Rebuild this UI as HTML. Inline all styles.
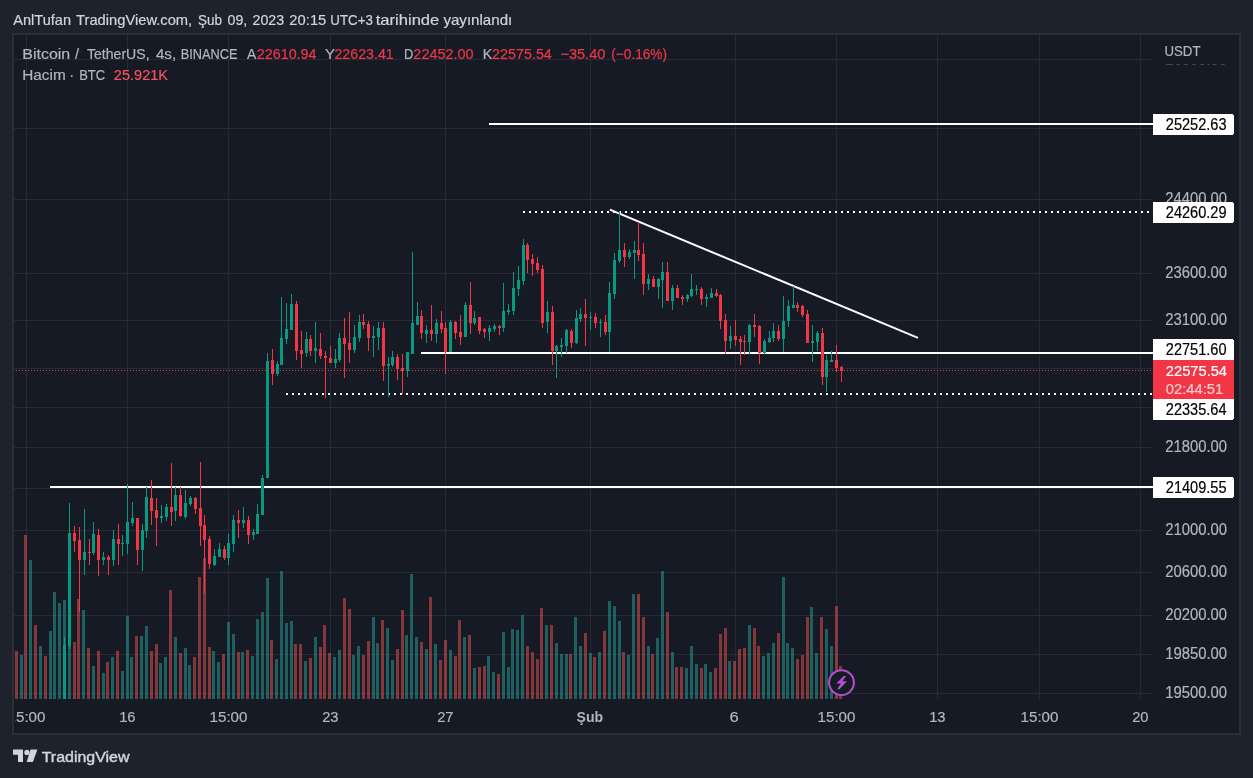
<!DOCTYPE html>
<html><head><meta charset="utf-8">
<style>
html,body{margin:0;padding:0;}
body{width:1253px;height:778px;background:#1e222d;position:relative;overflow:hidden;font-family:"Liberation Sans",sans-serif;}
svg{position:absolute;left:0;top:0;will-change:transform;}
text{font-family:"Liberation Sans",sans-serif;}
</style></head><body>
<svg width="1253" height="778" viewBox="0 0 1253 778" shape-rendering="crispEdges">
<defs><clipPath id="pane"><rect x="14" y="35" width="1139" height="664"/></clipPath>
<clipPath id="taxis"><rect x="15" y="699" width="1138" height="34"/></clipPath></defs>
<rect x="12" y="33" width="1229" height="702" fill="#2a2e39"/>
<rect x="14" y="35" width="1225" height="698" fill="#161a24"/>
<g clip-path="url(#pane)">
<g id="grid">
<rect x="14" y="59" width="1139" height="1" fill="#262a35"/>
<rect x="14" y="128" width="1139" height="1" fill="#262a35"/>
<rect x="14" y="199" width="1139" height="1" fill="#262a35"/>
<rect x="14" y="273" width="1139" height="1" fill="#262a35"/>
<rect x="14" y="320" width="1139" height="1" fill="#262a35"/>
<rect x="14" y="368" width="1139" height="1" fill="#262a35"/>
<rect x="14" y="407" width="1139" height="1" fill="#262a35"/>
<rect x="14" y="447" width="1139" height="1" fill="#262a35"/>
<rect x="14" y="488" width="1139" height="1" fill="#262a35"/>
<rect x="14" y="530" width="1139" height="1" fill="#262a35"/>
<rect x="14" y="572" width="1139" height="1" fill="#262a35"/>
<rect x="14" y="615" width="1139" height="1" fill="#262a35"/>
<rect x="14" y="654" width="1139" height="1" fill="#262a35"/>
<rect x="14" y="693" width="1139" height="1" fill="#262a35"/>
<rect x="26" y="35" width="1" height="664" fill="#262a35"/>
<rect x="127" y="35" width="1" height="664" fill="#262a35"/>
<rect x="228" y="35" width="1" height="664" fill="#262a35"/>
<rect x="330" y="35" width="1" height="664" fill="#262a35"/>
<rect x="445" y="35" width="1" height="664" fill="#262a35"/>
<rect x="590" y="35" width="1" height="664" fill="#262a35"/>
<rect x="735" y="35" width="1" height="664" fill="#262a35"/>
<rect x="836" y="35" width="1" height="664" fill="#262a35"/>
<rect x="937" y="35" width="1" height="664" fill="#262a35"/>
<rect x="1039" y="35" width="1" height="664" fill="#262a35"/>
<rect x="1140" y="35" width="1" height="664" fill="#262a35"/>
</g>
<g id="vol">
<rect x="15" y="651" width="3" height="48" fill="rgba(239,83,80,0.5)"/>
<rect x="20" y="655" width="3" height="44" fill="rgba(38,166,154,0.5)"/>
<rect x="24" y="535" width="3" height="164" fill="rgba(239,83,80,0.5)"/>
<rect x="29" y="560" width="3" height="139" fill="rgba(38,166,154,0.5)"/>
<rect x="34" y="625" width="3" height="74" fill="rgba(239,83,80,0.5)"/>
<rect x="39" y="646" width="3" height="53" fill="rgba(38,166,154,0.5)"/>
<rect x="44" y="656" width="3" height="43" fill="rgba(239,83,80,0.5)"/>
<rect x="49" y="631" width="3" height="68" fill="rgba(38,166,154,0.5)"/>
<rect x="53" y="592" width="3" height="107" fill="rgba(38,166,154,0.5)"/>
<rect x="58" y="603" width="3" height="96" fill="rgba(38,166,154,0.5)"/>
<rect x="63" y="600" width="3" height="99" fill="rgba(38,166,154,0.5)"/>
<rect x="68" y="590" width="3" height="109" fill="rgba(38,166,154,0.5)"/>
<rect x="73" y="642" width="3" height="57" fill="rgba(239,83,80,0.5)"/>
<rect x="77" y="599" width="3" height="100" fill="rgba(239,83,80,0.5)"/>
<rect x="82" y="610" width="3" height="89" fill="rgba(38,166,154,0.5)"/>
<rect x="87" y="648" width="3" height="51" fill="rgba(239,83,80,0.5)"/>
<rect x="92" y="666" width="3" height="33" fill="rgba(38,166,154,0.5)"/>
<rect x="97" y="651" width="3" height="48" fill="rgba(239,83,80,0.5)"/>
<rect x="102" y="673" width="3" height="26" fill="rgba(38,166,154,0.5)"/>
<rect x="106" y="662" width="3" height="37" fill="rgba(239,83,80,0.5)"/>
<rect x="111" y="657" width="3" height="42" fill="rgba(38,166,154,0.5)"/>
<rect x="116" y="651" width="3" height="48" fill="rgba(239,83,80,0.5)"/>
<rect x="121" y="671" width="3" height="28" fill="rgba(38,166,154,0.5)"/>
<rect x="126" y="616" width="3" height="83" fill="rgba(38,166,154,0.5)"/>
<rect x="130" y="657" width="3" height="42" fill="rgba(38,166,154,0.5)"/>
<rect x="135" y="636" width="3" height="63" fill="rgba(239,83,80,0.5)"/>
<rect x="140" y="636" width="3" height="63" fill="rgba(38,166,154,0.5)"/>
<rect x="145" y="626" width="3" height="73" fill="rgba(38,166,154,0.5)"/>
<rect x="150" y="651" width="3" height="48" fill="rgba(239,83,80,0.5)"/>
<rect x="155" y="644" width="3" height="55" fill="rgba(239,83,80,0.5)"/>
<rect x="159" y="663" width="3" height="36" fill="rgba(38,166,154,0.5)"/>
<rect x="164" y="657" width="3" height="42" fill="rgba(38,166,154,0.5)"/>
<rect x="169" y="590" width="3" height="109" fill="rgba(239,83,80,0.5)"/>
<rect x="174" y="637" width="3" height="62" fill="rgba(38,166,154,0.5)"/>
<rect x="179" y="653" width="3" height="46" fill="rgba(239,83,80,0.5)"/>
<rect x="184" y="648" width="3" height="51" fill="rgba(38,166,154,0.5)"/>
<rect x="188" y="665" width="3" height="34" fill="rgba(38,166,154,0.5)"/>
<rect x="193" y="657" width="3" height="42" fill="rgba(239,83,80,0.5)"/>
<rect x="198" y="577" width="3" height="122" fill="rgba(239,83,80,0.5)"/>
<rect x="203" y="558" width="3" height="141" fill="rgba(239,83,80,0.5)"/>
<rect x="208" y="647" width="3" height="52" fill="rgba(239,83,80,0.5)"/>
<rect x="212" y="651" width="3" height="48" fill="rgba(38,166,154,0.5)"/>
<rect x="217" y="662" width="3" height="37" fill="rgba(38,166,154,0.5)"/>
<rect x="222" y="654" width="3" height="45" fill="rgba(239,83,80,0.5)"/>
<rect x="227" y="622" width="3" height="77" fill="rgba(38,166,154,0.5)"/>
<rect x="232" y="634" width="3" height="65" fill="rgba(38,166,154,0.5)"/>
<rect x="237" y="652" width="3" height="47" fill="rgba(239,83,80,0.5)"/>
<rect x="241" y="652" width="3" height="47" fill="rgba(38,166,154,0.5)"/>
<rect x="246" y="650" width="3" height="49" fill="rgba(239,83,80,0.5)"/>
<rect x="251" y="656" width="3" height="43" fill="rgba(38,166,154,0.5)"/>
<rect x="256" y="619" width="3" height="80" fill="rgba(38,166,154,0.5)"/>
<rect x="261" y="612" width="3" height="87" fill="rgba(38,166,154,0.5)"/>
<rect x="266" y="578" width="3" height="121" fill="rgba(38,166,154,0.5)"/>
<rect x="270" y="640" width="3" height="59" fill="rgba(239,83,80,0.5)"/>
<rect x="275" y="659" width="3" height="40" fill="rgba(38,166,154,0.5)"/>
<rect x="280" y="571" width="3" height="128" fill="rgba(38,166,154,0.5)"/>
<rect x="285" y="623" width="3" height="76" fill="rgba(38,166,154,0.5)"/>
<rect x="290" y="621" width="3" height="78" fill="rgba(38,166,154,0.5)"/>
<rect x="294" y="644" width="3" height="55" fill="rgba(239,83,80,0.5)"/>
<rect x="299" y="644" width="3" height="55" fill="rgba(239,83,80,0.5)"/>
<rect x="304" y="661" width="3" height="38" fill="rgba(38,166,154,0.5)"/>
<rect x="309" y="658" width="3" height="41" fill="rgba(239,83,80,0.5)"/>
<rect x="314" y="637" width="3" height="62" fill="rgba(38,166,154,0.5)"/>
<rect x="319" y="647" width="3" height="52" fill="rgba(239,83,80,0.5)"/>
<rect x="323" y="625" width="3" height="74" fill="rgba(239,83,80,0.5)"/>
<rect x="328" y="653" width="3" height="46" fill="rgba(239,83,80,0.5)"/>
<rect x="333" y="657" width="3" height="42" fill="rgba(38,166,154,0.5)"/>
<rect x="338" y="650" width="3" height="49" fill="rgba(38,166,154,0.5)"/>
<rect x="343" y="598" width="3" height="101" fill="rgba(239,83,80,0.5)"/>
<rect x="348" y="609" width="3" height="90" fill="rgba(239,83,80,0.5)"/>
<rect x="352" y="655" width="3" height="44" fill="rgba(38,166,154,0.5)"/>
<rect x="357" y="646" width="3" height="53" fill="rgba(38,166,154,0.5)"/>
<rect x="362" y="655" width="3" height="44" fill="rgba(239,83,80,0.5)"/>
<rect x="367" y="641" width="3" height="58" fill="rgba(239,83,80,0.5)"/>
<rect x="372" y="617" width="3" height="82" fill="rgba(38,166,154,0.5)"/>
<rect x="376" y="643" width="3" height="56" fill="rgba(38,166,154,0.5)"/>
<rect x="381" y="620" width="3" height="79" fill="rgba(239,83,80,0.5)"/>
<rect x="386" y="628" width="3" height="71" fill="rgba(38,166,154,0.5)"/>
<rect x="391" y="660" width="3" height="39" fill="rgba(38,166,154,0.5)"/>
<rect x="396" y="649" width="3" height="50" fill="rgba(239,83,80,0.5)"/>
<rect x="401" y="610" width="3" height="89" fill="rgba(239,83,80,0.5)"/>
<rect x="405" y="635" width="3" height="64" fill="rgba(38,166,154,0.5)"/>
<rect x="410" y="574" width="3" height="125" fill="rgba(38,166,154,0.5)"/>
<rect x="415" y="637" width="3" height="62" fill="rgba(38,166,154,0.5)"/>
<rect x="420" y="642" width="3" height="57" fill="rgba(239,83,80,0.5)"/>
<rect x="425" y="649" width="3" height="50" fill="rgba(38,166,154,0.5)"/>
<rect x="429" y="597" width="3" height="102" fill="rgba(239,83,80,0.5)"/>
<rect x="434" y="644" width="3" height="55" fill="rgba(38,166,154,0.5)"/>
<rect x="439" y="660" width="3" height="39" fill="rgba(239,83,80,0.5)"/>
<rect x="444" y="640" width="3" height="59" fill="rgba(239,83,80,0.5)"/>
<rect x="449" y="650" width="3" height="49" fill="rgba(38,166,154,0.5)"/>
<rect x="454" y="656" width="3" height="43" fill="rgba(239,83,80,0.5)"/>
<rect x="458" y="620" width="3" height="79" fill="rgba(239,83,80,0.5)"/>
<rect x="463" y="637" width="3" height="62" fill="rgba(38,166,154,0.5)"/>
<rect x="468" y="635" width="3" height="64" fill="rgba(239,83,80,0.5)"/>
<rect x="473" y="668" width="3" height="31" fill="rgba(38,166,154,0.5)"/>
<rect x="478" y="667" width="3" height="32" fill="rgba(239,83,80,0.5)"/>
<rect x="483" y="666" width="3" height="33" fill="rgba(239,83,80,0.5)"/>
<rect x="487" y="656" width="3" height="43" fill="rgba(38,166,154,0.5)"/>
<rect x="492" y="672" width="3" height="27" fill="rgba(38,166,154,0.5)"/>
<rect x="497" y="674" width="3" height="25" fill="rgba(239,83,80,0.5)"/>
<rect x="502" y="632" width="3" height="67" fill="rgba(38,166,154,0.5)"/>
<rect x="507" y="667" width="3" height="32" fill="rgba(38,166,154,0.5)"/>
<rect x="511" y="629" width="3" height="70" fill="rgba(38,166,154,0.5)"/>
<rect x="516" y="630" width="3" height="69" fill="rgba(38,166,154,0.5)"/>
<rect x="521" y="615" width="3" height="84" fill="rgba(38,166,154,0.5)"/>
<rect x="526" y="646" width="3" height="53" fill="rgba(239,83,80,0.5)"/>
<rect x="531" y="652" width="3" height="47" fill="rgba(239,83,80,0.5)"/>
<rect x="536" y="659" width="3" height="40" fill="rgba(239,83,80,0.5)"/>
<rect x="540" y="608" width="3" height="91" fill="rgba(239,83,80,0.5)"/>
<rect x="545" y="625" width="3" height="74" fill="rgba(38,166,154,0.5)"/>
<rect x="550" y="625" width="3" height="74" fill="rgba(239,83,80,0.5)"/>
<rect x="555" y="643" width="3" height="56" fill="rgba(38,166,154,0.5)"/>
<rect x="560" y="654" width="3" height="45" fill="rgba(38,166,154,0.5)"/>
<rect x="565" y="654" width="3" height="45" fill="rgba(38,166,154,0.5)"/>
<rect x="569" y="654" width="3" height="45" fill="rgba(239,83,80,0.5)"/>
<rect x="574" y="617" width="3" height="82" fill="rgba(38,166,154,0.5)"/>
<rect x="579" y="646" width="3" height="53" fill="rgba(38,166,154,0.5)"/>
<rect x="584" y="633" width="3" height="66" fill="rgba(239,83,80,0.5)"/>
<rect x="589" y="653" width="3" height="46" fill="rgba(38,166,154,0.5)"/>
<rect x="593" y="657" width="3" height="42" fill="rgba(239,83,80,0.5)"/>
<rect x="598" y="652" width="3" height="47" fill="rgba(38,166,154,0.5)"/>
<rect x="603" y="631" width="3" height="68" fill="rgba(239,83,80,0.5)"/>
<rect x="608" y="601" width="3" height="98" fill="rgba(38,166,154,0.5)"/>
<rect x="613" y="606" width="3" height="93" fill="rgba(38,166,154,0.5)"/>
<rect x="618" y="621" width="3" height="78" fill="rgba(38,166,154,0.5)"/>
<rect x="622" y="652" width="3" height="47" fill="rgba(239,83,80,0.5)"/>
<rect x="627" y="655" width="3" height="44" fill="rgba(38,166,154,0.5)"/>
<rect x="632" y="594" width="3" height="105" fill="rgba(38,166,154,0.5)"/>
<rect x="637" y="594" width="3" height="105" fill="rgba(239,83,80,0.5)"/>
<rect x="642" y="617" width="3" height="82" fill="rgba(239,83,80,0.5)"/>
<rect x="647" y="646" width="3" height="53" fill="rgba(38,166,154,0.5)"/>
<rect x="651" y="654" width="3" height="45" fill="rgba(239,83,80,0.5)"/>
<rect x="656" y="638" width="3" height="61" fill="rgba(38,166,154,0.5)"/>
<rect x="661" y="571" width="3" height="128" fill="rgba(38,166,154,0.5)"/>
<rect x="666" y="612" width="3" height="87" fill="rgba(239,83,80,0.5)"/>
<rect x="671" y="652" width="3" height="47" fill="rgba(38,166,154,0.5)"/>
<rect x="675" y="667" width="3" height="32" fill="rgba(239,83,80,0.5)"/>
<rect x="680" y="667" width="3" height="32" fill="rgba(239,83,80,0.5)"/>
<rect x="685" y="668" width="3" height="31" fill="rgba(38,166,154,0.5)"/>
<rect x="690" y="646" width="3" height="53" fill="rgba(38,166,154,0.5)"/>
<rect x="695" y="664" width="3" height="35" fill="rgba(38,166,154,0.5)"/>
<rect x="700" y="668" width="3" height="31" fill="rgba(239,83,80,0.5)"/>
<rect x="704" y="664" width="3" height="35" fill="rgba(38,166,154,0.5)"/>
<rect x="709" y="672" width="3" height="27" fill="rgba(38,166,154,0.5)"/>
<rect x="714" y="668" width="3" height="31" fill="rgba(239,83,80,0.5)"/>
<rect x="719" y="634" width="3" height="65" fill="rgba(239,83,80,0.5)"/>
<rect x="724" y="628" width="3" height="71" fill="rgba(239,83,80,0.5)"/>
<rect x="728" y="661" width="3" height="38" fill="rgba(38,166,154,0.5)"/>
<rect x="733" y="661" width="3" height="38" fill="rgba(239,83,80,0.5)"/>
<rect x="738" y="649" width="3" height="50" fill="rgba(239,83,80,0.5)"/>
<rect x="743" y="648" width="3" height="51" fill="rgba(239,83,80,0.5)"/>
<rect x="748" y="625" width="3" height="74" fill="rgba(38,166,154,0.5)"/>
<rect x="753" y="628" width="3" height="71" fill="rgba(239,83,80,0.5)"/>
<rect x="757" y="646" width="3" height="53" fill="rgba(239,83,80,0.5)"/>
<rect x="762" y="656" width="3" height="43" fill="rgba(38,166,154,0.5)"/>
<rect x="767" y="653" width="3" height="46" fill="rgba(38,166,154,0.5)"/>
<rect x="772" y="643" width="3" height="56" fill="rgba(38,166,154,0.5)"/>
<rect x="777" y="633" width="3" height="66" fill="rgba(239,83,80,0.5)"/>
<rect x="782" y="577" width="3" height="122" fill="rgba(38,166,154,0.5)"/>
<rect x="786" y="643" width="3" height="56" fill="rgba(38,166,154,0.5)"/>
<rect x="791" y="648" width="3" height="51" fill="rgba(38,166,154,0.5)"/>
<rect x="796" y="659" width="3" height="40" fill="rgba(239,83,80,0.5)"/>
<rect x="801" y="655" width="3" height="44" fill="rgba(239,83,80,0.5)"/>
<rect x="806" y="617" width="3" height="82" fill="rgba(239,83,80,0.5)"/>
<rect x="810" y="607" width="3" height="92" fill="rgba(38,166,154,0.5)"/>
<rect x="815" y="653" width="3" height="46" fill="rgba(38,166,154,0.5)"/>
<rect x="820" y="617" width="3" height="82" fill="rgba(239,83,80,0.5)"/>
<rect x="825" y="629" width="3" height="70" fill="rgba(38,166,154,0.5)"/>
<rect x="830" y="646" width="3" height="53" fill="rgba(38,166,154,0.5)"/>
<rect x="835" y="606" width="3" height="93" fill="rgba(239,83,80,0.5)"/>
<rect x="839" y="666" width="3" height="33" fill="rgba(239,83,80,0.5)"/>
</g>
<g id="draw" fill="#ffffff">
<rect x="489" y="123" width="664" height="2"/>
<rect x="421" y="352" width="732" height="2"/>
<rect x="50" y="486" width="1103" height="2"/>
</g>
<g id="dots">
<line x1="523" y1="212" x2="1153" y2="212" stroke="#fff" stroke-width="2" stroke-dasharray="2 4"/>
<line x1="286" y1="394" x2="1153" y2="394" stroke="#fff" stroke-width="2" stroke-dasharray="2 4"/>
<line x1="16" y1="370.5" x2="1153" y2="370.5" stroke="#f23645" stroke-width="1" stroke-dasharray="1 2"/>
</g>
<line x1="609.9" y1="209.7" x2="918" y2="337.8" stroke="#fff" stroke-width="2" shape-rendering="auto"/>
<g id="candles">
<rect x="64" y="637" width="1" height="62" fill="#089981"/>
<rect x="63" y="645" width="3" height="54" fill="#089981"/>
<rect x="69" y="503" width="1" height="146" fill="#089981"/>
<rect x="68" y="533" width="3" height="113" fill="#089981"/>
<rect x="74" y="526" width="1" height="26" fill="#f23645"/>
<rect x="73" y="533" width="3" height="8" fill="#f23645"/>
<rect x="79" y="527" width="1" height="85" fill="#f23645"/>
<rect x="78" y="540" width="3" height="20" fill="#f23645"/>
<rect x="84" y="509" width="1" height="66" fill="#089981"/>
<rect x="83" y="552" width="3" height="8" fill="#089981"/>
<rect x="89" y="539" width="1" height="26" fill="#f23645"/>
<rect x="88" y="552" width="3" height="1" fill="#f23645"/>
<rect x="93" y="522" width="1" height="33" fill="#089981"/>
<rect x="92" y="534" width="3" height="19" fill="#089981"/>
<rect x="98" y="529" width="1" height="47" fill="#f23645"/>
<rect x="97" y="535" width="3" height="25" fill="#f23645"/>
<rect x="103" y="552" width="1" height="13" fill="#089981"/>
<rect x="102" y="557" width="3" height="3" fill="#089981"/>
<rect x="108" y="555" width="1" height="20" fill="#f23645"/>
<rect x="107" y="557" width="3" height="3" fill="#f23645"/>
<rect x="113" y="530" width="1" height="36" fill="#089981"/>
<rect x="112" y="539" width="3" height="21" fill="#089981"/>
<rect x="118" y="524" width="1" height="41" fill="#f23645"/>
<rect x="117" y="539" width="3" height="5" fill="#f23645"/>
<rect x="122" y="535" width="1" height="21" fill="#089981"/>
<rect x="121" y="543" width="3" height="1" fill="#089981"/>
<rect x="127" y="484" width="1" height="70" fill="#089981"/>
<rect x="126" y="522" width="3" height="22" fill="#089981"/>
<rect x="132" y="502" width="1" height="24" fill="#089981"/>
<rect x="131" y="518" width="3" height="5" fill="#089981"/>
<rect x="137" y="518" width="1" height="47" fill="#f23645"/>
<rect x="136" y="518" width="3" height="32" fill="#f23645"/>
<rect x="142" y="524" width="1" height="47" fill="#089981"/>
<rect x="141" y="530" width="3" height="20" fill="#089981"/>
<rect x="146" y="487" width="1" height="51" fill="#089981"/>
<rect x="145" y="497" width="3" height="34" fill="#089981"/>
<rect x="151" y="480" width="1" height="45" fill="#f23645"/>
<rect x="150" y="498" width="3" height="13" fill="#f23645"/>
<rect x="156" y="498" width="1" height="48" fill="#f23645"/>
<rect x="155" y="510" width="3" height="8" fill="#f23645"/>
<rect x="161" y="505" width="1" height="18" fill="#089981"/>
<rect x="160" y="516" width="3" height="2" fill="#089981"/>
<rect x="166" y="504" width="1" height="17" fill="#089981"/>
<rect x="165" y="507" width="3" height="10" fill="#089981"/>
<rect x="171" y="463" width="1" height="63" fill="#f23645"/>
<rect x="170" y="507" width="3" height="5" fill="#f23645"/>
<rect x="175" y="487" width="1" height="34" fill="#089981"/>
<rect x="174" y="495" width="3" height="16" fill="#089981"/>
<rect x="180" y="487" width="1" height="30" fill="#f23645"/>
<rect x="179" y="495" width="3" height="21" fill="#f23645"/>
<rect x="185" y="490" width="1" height="29" fill="#089981"/>
<rect x="184" y="503" width="3" height="14" fill="#089981"/>
<rect x="190" y="496" width="1" height="10" fill="#089981"/>
<rect x="189" y="498" width="3" height="6" fill="#089981"/>
<rect x="195" y="497" width="1" height="17" fill="#f23645"/>
<rect x="194" y="498" width="3" height="11" fill="#f23645"/>
<rect x="200" y="462" width="1" height="84" fill="#f23645"/>
<rect x="199" y="508" width="3" height="18" fill="#f23645"/>
<rect x="204" y="515" width="1" height="78" fill="#f23645"/>
<rect x="203" y="525" width="3" height="15" fill="#f23645"/>
<rect x="209" y="536" width="1" height="33" fill="#f23645"/>
<rect x="208" y="539" width="3" height="25" fill="#f23645"/>
<rect x="214" y="549" width="1" height="17" fill="#089981"/>
<rect x="213" y="556" width="3" height="9" fill="#089981"/>
<rect x="219" y="543" width="1" height="14" fill="#089981"/>
<rect x="218" y="549" width="3" height="8" fill="#089981"/>
<rect x="224" y="546" width="1" height="14" fill="#f23645"/>
<rect x="223" y="549" width="3" height="9" fill="#f23645"/>
<rect x="228" y="534" width="1" height="31" fill="#089981"/>
<rect x="227" y="543" width="3" height="15" fill="#089981"/>
<rect x="233" y="515" width="1" height="37" fill="#089981"/>
<rect x="232" y="520" width="3" height="24" fill="#089981"/>
<rect x="238" y="510" width="1" height="28" fill="#f23645"/>
<rect x="237" y="520" width="3" height="3" fill="#f23645"/>
<rect x="243" y="507" width="1" height="21" fill="#089981"/>
<rect x="242" y="520" width="3" height="3" fill="#089981"/>
<rect x="248" y="516" width="1" height="28" fill="#f23645"/>
<rect x="247" y="520" width="3" height="15" fill="#f23645"/>
<rect x="253" y="529" width="1" height="11" fill="#089981"/>
<rect x="252" y="532" width="3" height="3" fill="#089981"/>
<rect x="257" y="504" width="1" height="30" fill="#089981"/>
<rect x="256" y="514" width="3" height="20" fill="#089981"/>
<rect x="262" y="475" width="1" height="40" fill="#089981"/>
<rect x="261" y="478" width="3" height="37" fill="#089981"/>
<rect x="267" y="353" width="1" height="125" fill="#089981"/>
<rect x="266" y="361" width="3" height="117" fill="#089981"/>
<rect x="272" y="349" width="1" height="36" fill="#f23645"/>
<rect x="271" y="360" width="3" height="14" fill="#f23645"/>
<rect x="277" y="361" width="1" height="15" fill="#089981"/>
<rect x="276" y="364" width="3" height="10" fill="#089981"/>
<rect x="281" y="297" width="1" height="68" fill="#089981"/>
<rect x="280" y="338" width="3" height="27" fill="#089981"/>
<rect x="286" y="303" width="1" height="41" fill="#089981"/>
<rect x="285" y="329" width="3" height="10" fill="#089981"/>
<rect x="291" y="294" width="1" height="36" fill="#089981"/>
<rect x="290" y="304" width="3" height="26" fill="#089981"/>
<rect x="296" y="301" width="1" height="59" fill="#f23645"/>
<rect x="295" y="304" width="3" height="47" fill="#f23645"/>
<rect x="301" y="331" width="1" height="37" fill="#f23645"/>
<rect x="300" y="350" width="3" height="4" fill="#f23645"/>
<rect x="306" y="332" width="1" height="25" fill="#089981"/>
<rect x="305" y="339" width="3" height="14" fill="#089981"/>
<rect x="310" y="335" width="1" height="21" fill="#f23645"/>
<rect x="309" y="339" width="3" height="12" fill="#f23645"/>
<rect x="315" y="322" width="1" height="41" fill="#089981"/>
<rect x="314" y="348" width="3" height="3" fill="#089981"/>
<rect x="320" y="333" width="1" height="26" fill="#f23645"/>
<rect x="319" y="349" width="3" height="7" fill="#f23645"/>
<rect x="325" y="351" width="1" height="47" fill="#f23645"/>
<rect x="324" y="356" width="3" height="2" fill="#f23645"/>
<rect x="330" y="346" width="1" height="17" fill="#f23645"/>
<rect x="329" y="358" width="3" height="5" fill="#f23645"/>
<rect x="335" y="349" width="1" height="19" fill="#089981"/>
<rect x="334" y="359" width="3" height="4" fill="#089981"/>
<rect x="339" y="333" width="1" height="29" fill="#089981"/>
<rect x="338" y="338" width="3" height="22" fill="#089981"/>
<rect x="344" y="318" width="1" height="60" fill="#f23645"/>
<rect x="343" y="338" width="3" height="6" fill="#f23645"/>
<rect x="349" y="312" width="1" height="51" fill="#f23645"/>
<rect x="348" y="343" width="3" height="7" fill="#f23645"/>
<rect x="354" y="325" width="1" height="28" fill="#089981"/>
<rect x="353" y="337" width="3" height="13" fill="#089981"/>
<rect x="359" y="315" width="1" height="27" fill="#089981"/>
<rect x="358" y="322" width="3" height="16" fill="#089981"/>
<rect x="363" y="314" width="1" height="15" fill="#f23645"/>
<rect x="362" y="322" width="3" height="3" fill="#f23645"/>
<rect x="368" y="321" width="1" height="30" fill="#f23645"/>
<rect x="367" y="324" width="3" height="14" fill="#f23645"/>
<rect x="373" y="326" width="1" height="31" fill="#089981"/>
<rect x="372" y="336" width="3" height="2" fill="#089981"/>
<rect x="378" y="322" width="1" height="28" fill="#089981"/>
<rect x="377" y="328" width="3" height="9" fill="#089981"/>
<rect x="383" y="322" width="1" height="59" fill="#f23645"/>
<rect x="382" y="328" width="3" height="38" fill="#f23645"/>
<rect x="388" y="357" width="1" height="40" fill="#089981"/>
<rect x="387" y="364" width="3" height="2" fill="#089981"/>
<rect x="392" y="351" width="1" height="16" fill="#089981"/>
<rect x="391" y="357" width="3" height="8" fill="#089981"/>
<rect x="397" y="354" width="1" height="26" fill="#f23645"/>
<rect x="396" y="357" width="3" height="12" fill="#f23645"/>
<rect x="402" y="354" width="1" height="40" fill="#f23645"/>
<rect x="401" y="368" width="3" height="3" fill="#f23645"/>
<rect x="407" y="352" width="1" height="25" fill="#089981"/>
<rect x="406" y="352" width="3" height="19" fill="#089981"/>
<rect x="412" y="252" width="1" height="102" fill="#089981"/>
<rect x="411" y="323" width="3" height="31" fill="#089981"/>
<rect x="417" y="302" width="1" height="23" fill="#089981"/>
<rect x="416" y="316" width="3" height="9" fill="#089981"/>
<rect x="421" y="310" width="1" height="29" fill="#f23645"/>
<rect x="420" y="316" width="3" height="17" fill="#f23645"/>
<rect x="426" y="325" width="1" height="18" fill="#089981"/>
<rect x="425" y="330" width="3" height="4" fill="#089981"/>
<rect x="431" y="305" width="1" height="36" fill="#f23645"/>
<rect x="430" y="330" width="3" height="4" fill="#f23645"/>
<rect x="436" y="319" width="1" height="24" fill="#089981"/>
<rect x="435" y="323" width="3" height="11" fill="#089981"/>
<rect x="441" y="311" width="1" height="22" fill="#f23645"/>
<rect x="440" y="323" width="3" height="6" fill="#f23645"/>
<rect x="445" y="322" width="1" height="52" fill="#f23645"/>
<rect x="444" y="328" width="3" height="24" fill="#f23645"/>
<rect x="450" y="320" width="1" height="32" fill="#089981"/>
<rect x="449" y="322" width="3" height="30" fill="#089981"/>
<rect x="455" y="321" width="1" height="18" fill="#f23645"/>
<rect x="454" y="322" width="3" height="11" fill="#f23645"/>
<rect x="460" y="315" width="1" height="30" fill="#f23645"/>
<rect x="459" y="332" width="3" height="5" fill="#f23645"/>
<rect x="465" y="302" width="1" height="35" fill="#089981"/>
<rect x="464" y="305" width="3" height="32" fill="#089981"/>
<rect x="470" y="282" width="1" height="52" fill="#f23645"/>
<rect x="469" y="305" width="3" height="18" fill="#f23645"/>
<rect x="474" y="311" width="1" height="14" fill="#089981"/>
<rect x="473" y="318" width="3" height="5" fill="#089981"/>
<rect x="479" y="317" width="1" height="17" fill="#f23645"/>
<rect x="478" y="317" width="3" height="14" fill="#f23645"/>
<rect x="484" y="328" width="1" height="10" fill="#f23645"/>
<rect x="483" y="329" width="3" height="3" fill="#f23645"/>
<rect x="489" y="325" width="1" height="16" fill="#089981"/>
<rect x="488" y="328" width="3" height="4" fill="#089981"/>
<rect x="494" y="324" width="1" height="8" fill="#089981"/>
<rect x="493" y="326" width="3" height="3" fill="#089981"/>
<rect x="499" y="325" width="1" height="10" fill="#f23645"/>
<rect x="498" y="326" width="3" height="2" fill="#f23645"/>
<rect x="503" y="283" width="1" height="49" fill="#089981"/>
<rect x="502" y="311" width="3" height="17" fill="#089981"/>
<rect x="508" y="304" width="1" height="11" fill="#089981"/>
<rect x="507" y="310" width="3" height="2" fill="#089981"/>
<rect x="513" y="272" width="1" height="43" fill="#089981"/>
<rect x="512" y="288" width="3" height="23" fill="#089981"/>
<rect x="518" y="266" width="1" height="30" fill="#089981"/>
<rect x="517" y="280" width="3" height="9" fill="#089981"/>
<rect x="523" y="239" width="1" height="46" fill="#089981"/>
<rect x="522" y="245" width="3" height="36" fill="#089981"/>
<rect x="527" y="243" width="1" height="30" fill="#f23645"/>
<rect x="526" y="245" width="3" height="15" fill="#f23645"/>
<rect x="532" y="254" width="1" height="22" fill="#f23645"/>
<rect x="531" y="259" width="3" height="5" fill="#f23645"/>
<rect x="537" y="257" width="1" height="16" fill="#f23645"/>
<rect x="536" y="263" width="3" height="7" fill="#f23645"/>
<rect x="542" y="265" width="1" height="63" fill="#f23645"/>
<rect x="541" y="269" width="3" height="54" fill="#f23645"/>
<rect x="547" y="301" width="1" height="32" fill="#089981"/>
<rect x="546" y="312" width="3" height="10" fill="#089981"/>
<rect x="552" y="306" width="1" height="59" fill="#f23645"/>
<rect x="551" y="312" width="3" height="39" fill="#f23645"/>
<rect x="556" y="345" width="1" height="33" fill="#089981"/>
<rect x="555" y="346" width="3" height="5" fill="#089981"/>
<rect x="561" y="338" width="1" height="19" fill="#089981"/>
<rect x="560" y="345" width="3" height="2" fill="#089981"/>
<rect x="566" y="329" width="1" height="24" fill="#089981"/>
<rect x="565" y="330" width="3" height="16" fill="#089981"/>
<rect x="571" y="329" width="1" height="19" fill="#f23645"/>
<rect x="570" y="331" width="3" height="12" fill="#f23645"/>
<rect x="576" y="310" width="1" height="34" fill="#089981"/>
<rect x="575" y="318" width="3" height="25" fill="#089981"/>
<rect x="580" y="308" width="1" height="14" fill="#089981"/>
<rect x="579" y="314" width="3" height="5" fill="#089981"/>
<rect x="585" y="299" width="1" height="47" fill="#f23645"/>
<rect x="584" y="314" width="3" height="4" fill="#f23645"/>
<rect x="590" y="312" width="1" height="18" fill="#089981"/>
<rect x="589" y="317" width="3" height="1" fill="#089981"/>
<rect x="595" y="313" width="1" height="15" fill="#f23645"/>
<rect x="594" y="317" width="3" height="6" fill="#f23645"/>
<rect x="600" y="319" width="1" height="18" fill="#089981"/>
<rect x="599" y="322" width="3" height="1" fill="#089981"/>
<rect x="605" y="315" width="1" height="20" fill="#f23645"/>
<rect x="604" y="322" width="3" height="10" fill="#f23645"/>
<rect x="609" y="282" width="1" height="70" fill="#089981"/>
<rect x="608" y="293" width="3" height="39" fill="#089981"/>
<rect x="614" y="253" width="1" height="46" fill="#089981"/>
<rect x="613" y="260" width="3" height="34" fill="#089981"/>
<rect x="619" y="211" width="1" height="52" fill="#089981"/>
<rect x="618" y="250" width="3" height="11" fill="#089981"/>
<rect x="624" y="243" width="1" height="24" fill="#f23645"/>
<rect x="623" y="250" width="3" height="7" fill="#f23645"/>
<rect x="629" y="249" width="1" height="10" fill="#089981"/>
<rect x="628" y="252" width="3" height="5" fill="#089981"/>
<rect x="634" y="241" width="1" height="38" fill="#089981"/>
<rect x="633" y="250" width="3" height="3" fill="#089981"/>
<rect x="638" y="222" width="1" height="39" fill="#f23645"/>
<rect x="637" y="250" width="3" height="5" fill="#f23645"/>
<rect x="643" y="243" width="1" height="52" fill="#f23645"/>
<rect x="642" y="254" width="3" height="30" fill="#f23645"/>
<rect x="648" y="274" width="1" height="16" fill="#089981"/>
<rect x="647" y="279" width="3" height="5" fill="#089981"/>
<rect x="653" y="276" width="1" height="11" fill="#f23645"/>
<rect x="652" y="279" width="3" height="8" fill="#f23645"/>
<rect x="658" y="278" width="1" height="21" fill="#089981"/>
<rect x="657" y="279" width="3" height="8" fill="#089981"/>
<rect x="662" y="262" width="1" height="46" fill="#089981"/>
<rect x="661" y="272" width="3" height="8" fill="#089981"/>
<rect x="667" y="262" width="1" height="39" fill="#f23645"/>
<rect x="666" y="272" width="3" height="29" fill="#f23645"/>
<rect x="672" y="285" width="1" height="25" fill="#089981"/>
<rect x="671" y="288" width="3" height="13" fill="#089981"/>
<rect x="677" y="285" width="1" height="13" fill="#f23645"/>
<rect x="676" y="288" width="3" height="10" fill="#f23645"/>
<rect x="682" y="295" width="1" height="10" fill="#f23645"/>
<rect x="681" y="297" width="3" height="2" fill="#f23645"/>
<rect x="687" y="294" width="1" height="8" fill="#089981"/>
<rect x="686" y="295" width="3" height="4" fill="#089981"/>
<rect x="691" y="274" width="1" height="23" fill="#089981"/>
<rect x="690" y="289" width="3" height="7" fill="#089981"/>
<rect x="696" y="285" width="1" height="10" fill="#089981"/>
<rect x="695" y="289" width="3" height="1" fill="#089981"/>
<rect x="701" y="287" width="1" height="18" fill="#f23645"/>
<rect x="700" y="289" width="3" height="10" fill="#f23645"/>
<rect x="706" y="294" width="1" height="13" fill="#089981"/>
<rect x="705" y="297" width="3" height="2" fill="#089981"/>
<rect x="711" y="288" width="1" height="10" fill="#089981"/>
<rect x="710" y="293" width="3" height="5" fill="#089981"/>
<rect x="716" y="289" width="1" height="8" fill="#f23645"/>
<rect x="715" y="293" width="3" height="3" fill="#f23645"/>
<rect x="720" y="294" width="1" height="35" fill="#f23645"/>
<rect x="719" y="295" width="3" height="26" fill="#f23645"/>
<rect x="725" y="314" width="1" height="40" fill="#f23645"/>
<rect x="724" y="320" width="3" height="21" fill="#f23645"/>
<rect x="730" y="326" width="1" height="23" fill="#089981"/>
<rect x="729" y="336" width="3" height="5" fill="#089981"/>
<rect x="735" y="320" width="1" height="26" fill="#f23645"/>
<rect x="734" y="336" width="3" height="4" fill="#f23645"/>
<rect x="740" y="336" width="1" height="29" fill="#f23645"/>
<rect x="739" y="339" width="3" height="3" fill="#f23645"/>
<rect x="744" y="335" width="1" height="20" fill="#f23645"/>
<rect x="743" y="341" width="3" height="1" fill="#f23645"/>
<rect x="749" y="324" width="1" height="30" fill="#089981"/>
<rect x="748" y="325" width="3" height="17" fill="#089981"/>
<rect x="754" y="314" width="1" height="23" fill="#f23645"/>
<rect x="753" y="325" width="3" height="2" fill="#f23645"/>
<rect x="759" y="325" width="1" height="39" fill="#f23645"/>
<rect x="758" y="326" width="3" height="27" fill="#f23645"/>
<rect x="764" y="339" width="1" height="15" fill="#089981"/>
<rect x="763" y="341" width="3" height="12" fill="#089981"/>
<rect x="769" y="331" width="1" height="12" fill="#089981"/>
<rect x="768" y="338" width="3" height="4" fill="#089981"/>
<rect x="773" y="323" width="1" height="19" fill="#089981"/>
<rect x="772" y="331" width="3" height="7" fill="#089981"/>
<rect x="778" y="325" width="1" height="16" fill="#f23645"/>
<rect x="777" y="331" width="3" height="8" fill="#f23645"/>
<rect x="783" y="296" width="1" height="56" fill="#089981"/>
<rect x="782" y="321" width="3" height="18" fill="#089981"/>
<rect x="788" y="300" width="1" height="27" fill="#089981"/>
<rect x="787" y="306" width="3" height="15" fill="#089981"/>
<rect x="793" y="286" width="1" height="22" fill="#089981"/>
<rect x="792" y="305" width="3" height="3" fill="#089981"/>
<rect x="797" y="302" width="1" height="10" fill="#f23645"/>
<rect x="796" y="305" width="3" height="3" fill="#f23645"/>
<rect x="802" y="305" width="1" height="12" fill="#f23645"/>
<rect x="801" y="306" width="3" height="9" fill="#f23645"/>
<rect x="807" y="310" width="1" height="33" fill="#f23645"/>
<rect x="806" y="314" width="3" height="29" fill="#f23645"/>
<rect x="812" y="325" width="1" height="37" fill="#089981"/>
<rect x="811" y="341" width="3" height="2" fill="#089981"/>
<rect x="817" y="331" width="1" height="20" fill="#089981"/>
<rect x="816" y="333" width="3" height="9" fill="#089981"/>
<rect x="822" y="328" width="1" height="57" fill="#f23645"/>
<rect x="821" y="333" width="3" height="44" fill="#f23645"/>
<rect x="826" y="355" width="1" height="37" fill="#089981"/>
<rect x="825" y="360" width="3" height="17" fill="#089981"/>
<rect x="831" y="351" width="1" height="11" fill="#089981"/>
<rect x="830" y="360" width="3" height="2" fill="#089981"/>
<rect x="836" y="345" width="1" height="27" fill="#f23645"/>
<rect x="835" y="360" width="3" height="8" fill="#f23645"/>
<rect x="841" y="366" width="1" height="16" fill="#f23645"/>
<rect x="840" y="367" width="3" height="4" fill="#f23645"/>
</g>
<g id="bolt" shape-rendering="auto">
<circle cx="841.5" cy="682.6" r="12.4" fill="#161a24" stroke="#b44fd1" stroke-width="2"/>
<path d="M843.7 675.9 L846.3 675.9 L842.2 681.3 L846.9 681.3 L839.5 689.2 L837.1 689.2 L841.0 683.6 L836.3 683.6 Z" fill="#b44fd1"/>
</g>
</g>
<g id="axis"><text opacity="0.3" x="1165.15" y="65.0" font-size="16" fill="#b2b5be" stroke="#b2b5be" stroke-width="0.2" textLength="61.87" lengthAdjust="spacingAndGlyphs">26000.00</text>
<text x="1165.15" y="204.2" font-size="16" fill="#b2b5be" stroke="#b2b5be" stroke-width="0.2" textLength="61.87" lengthAdjust="spacingAndGlyphs">24400.00</text>
<text x="1165.15" y="278.2" font-size="16" fill="#b2b5be" stroke="#b2b5be" stroke-width="0.2" textLength="61.87" lengthAdjust="spacingAndGlyphs">23600.00</text>
<text x="1165.15" y="325.2" font-size="16" fill="#b2b5be" stroke="#b2b5be" stroke-width="0.2" textLength="61.87" lengthAdjust="spacingAndGlyphs">23100.00</text>
<text x="1165.15" y="452.2" font-size="16" fill="#b2b5be" stroke="#b2b5be" stroke-width="0.2" textLength="61.87" lengthAdjust="spacingAndGlyphs">21800.00</text>
<text x="1165.15" y="535.2" font-size="16" fill="#b2b5be" stroke="#b2b5be" stroke-width="0.2" textLength="61.87" lengthAdjust="spacingAndGlyphs">21000.00</text>
<text x="1165.15" y="577.2" font-size="16" fill="#b2b5be" stroke="#b2b5be" stroke-width="0.2" textLength="61.87" lengthAdjust="spacingAndGlyphs">20600.00</text>
<text x="1165.15" y="620.2" font-size="16" fill="#b2b5be" stroke="#b2b5be" stroke-width="0.2" textLength="61.87" lengthAdjust="spacingAndGlyphs">20200.00</text>
<text x="1165.15" y="659.2" font-size="16" fill="#b2b5be" stroke="#b2b5be" stroke-width="0.2" textLength="61.87" lengthAdjust="spacingAndGlyphs">19850.00</text>
<text x="1165.15" y="698.2" font-size="16" fill="#b2b5be" stroke="#b2b5be" stroke-width="0.2" textLength="61.87" lengthAdjust="spacingAndGlyphs">19500.00</text></g>
<rect x="1153" y="35" width="86" height="29" fill="#161a24"/>
<text x="1164.47" y="56" font-size="15.5" fill="#b2b5be" stroke="#b2b5be" stroke-width="0.2" textLength="36.01" lengthAdjust="spacingAndGlyphs">USDT</text>
<g id="labels">
<path d="M1153 114 H1231 Q1234 114 1234 117 V132 Q1234 135 1231 135 H1153 Z" fill="#fff"/>
<path d="M1153 202 H1231 Q1234 202 1234 205 V220 Q1234 223 1231 223 H1153 Z" fill="#fff"/>
<path d="M1153 339 H1231 Q1234 339 1234 342 V360 H1153 Z" fill="#fff"/>
<path d="M1153 360 H1234 V399 H1153 Z" fill="#f23645"/>
<path d="M1153 399 H1234 V417 Q1234 420 1231 420 H1153 Z" fill="#fff"/>
<path d="M1153 477 H1231 Q1234 477 1234 480 V495 Q1234 498 1231 498 H1153 Z" fill="#fff"/>
<text x="1165.83" y="130" font-size="16" fill="#000000" stroke="#000000" stroke-width="0.2" textLength="60.64" lengthAdjust="spacingAndGlyphs">25252.63</text>
<text x="1165.83" y="218" font-size="16" fill="#000000" stroke="#000000" stroke-width="0.2" textLength="60.64" lengthAdjust="spacingAndGlyphs">24260.29</text>
<text x="1165.83" y="355" font-size="16" fill="#000000" stroke="#000000" stroke-width="0.2" textLength="60.64" lengthAdjust="spacingAndGlyphs">22751.60</text>
<text x="1165.82" y="376" font-size="15.5" fill="#ffffff" stroke="#ffffff" stroke-width="0.2" textLength="61.23" lengthAdjust="spacingAndGlyphs">22575.54</text>
<text x="1165.8" y="394" font-size="15.5" fill="#f9cdd1" stroke="#f9cdd1" stroke-width="0.2" textLength="57.49" lengthAdjust="spacingAndGlyphs">02:44:51</text>
<text x="1165.83" y="415" font-size="16" fill="#000000" stroke="#000000" stroke-width="0.2" textLength="60.64" lengthAdjust="spacingAndGlyphs">22335.64</text>
<text x="1165.83" y="493" font-size="16" fill="#000000" stroke="#000000" stroke-width="0.2" textLength="60.64" lengthAdjust="spacingAndGlyphs">21409.55</text>
</g>
<g id="time">
<text x="7.58" y="722" font-size="15" fill="#b2b5be" stroke="#b2b5be" stroke-width="0.2" textLength="37.88" lengthAdjust="spacingAndGlyphs" clip-path="url(#taxis)">15:00</text>
<text x="209.58" y="722" font-size="15" fill="#b2b5be" stroke="#b2b5be" stroke-width="0.2" textLength="37.88" lengthAdjust="spacingAndGlyphs">15:00</text>
<text x="817.58" y="722" font-size="15" fill="#b2b5be" stroke="#b2b5be" stroke-width="0.2" textLength="37.88" lengthAdjust="spacingAndGlyphs">15:00</text>
<text x="1020.58" y="722" font-size="15" fill="#b2b5be" stroke="#b2b5be" stroke-width="0.2" textLength="37.88" lengthAdjust="spacingAndGlyphs">15:00</text>
<text x="119.2" y="722" font-size="15" fill="#b2b5be" stroke="#b2b5be" stroke-width="0.2" textLength="16.37" lengthAdjust="spacingAndGlyphs">16</text>
<text x="322.2" y="722" font-size="15" fill="#b2b5be" stroke="#b2b5be" stroke-width="0.2" textLength="16.37" lengthAdjust="spacingAndGlyphs">23</text>
<text x="437.2" y="722" font-size="15" fill="#b2b5be" stroke="#b2b5be" stroke-width="0.2" textLength="16.37" lengthAdjust="spacingAndGlyphs">27</text>
<text x="929.2" y="722" font-size="15" fill="#b2b5be" stroke="#b2b5be" stroke-width="0.2" textLength="16.37" lengthAdjust="spacingAndGlyphs">13</text>
<text x="1132.2" y="722" font-size="15" fill="#b2b5be" stroke="#b2b5be" stroke-width="0.2" textLength="16.37" lengthAdjust="spacingAndGlyphs">20</text>
<text x="729.57" y="722" font-size="15" fill="#b2b5be" stroke="#b2b5be" stroke-width="0.2" textLength="9.2" lengthAdjust="spacingAndGlyphs">6</text>
<text x="576.55" y="722" font-size="15" fill="#b2b5be" stroke="#b2b5be" stroke-width="0" textLength="26.53" lengthAdjust="spacingAndGlyphs" font-weight="bold">Şub</text>
</g>
<g id="legend">
<text x="13.25" y="25" font-size="15" fill="#d1d4dc" stroke="#d1d4dc" stroke-width="0.2" textLength="57.76" lengthAdjust="spacingAndGlyphs">AnlTufan</text>
<text x="76.05" y="25" font-size="15" fill="#d1d4dc" stroke="#d1d4dc" stroke-width="0.2" textLength="116.16" lengthAdjust="spacingAndGlyphs">TradingView.com,</text>
<text x="197.9" y="25" font-size="15" fill="#d1d4dc" stroke="#d1d4dc" stroke-width="0.2" textLength="24.06" lengthAdjust="spacingAndGlyphs">Şub</text>
<text x="227.5" y="25" font-size="15" fill="#d1d4dc" stroke="#d1d4dc" stroke-width="0.2" textLength="19.73" lengthAdjust="spacingAndGlyphs">09,</text>
<text x="252.55" y="25" font-size="15" fill="#d1d4dc" stroke="#d1d4dc" stroke-width="0.2" textLength="31.61" lengthAdjust="spacingAndGlyphs">2023</text>
<text x="289.37" y="25" font-size="15" fill="#d1d4dc" stroke="#d1d4dc" stroke-width="0.2" textLength="36.96" lengthAdjust="spacingAndGlyphs">20:15</text>
<text x="330.35" y="25" font-size="15" fill="#d1d4dc" stroke="#d1d4dc" stroke-width="0.2" textLength="42.48" lengthAdjust="spacingAndGlyphs">UTC+3</text>
<text x="375.68" y="25" font-size="15" fill="#d1d4dc" stroke="#d1d4dc" stroke-width="0.2" textLength="63.64" lengthAdjust="spacingAndGlyphs">tarihinde</text>
<text x="443.41" y="25" font-size="15" fill="#d1d4dc" stroke="#d1d4dc" stroke-width="0.2" textLength="68.87" lengthAdjust="spacingAndGlyphs">yayınlandı</text>
<text x="22.31" y="58.8" font-size="14.5" fill="#b2b5be" stroke="#b2b5be" stroke-width="0.2" textLength="47.93" lengthAdjust="spacingAndGlyphs">Bitcoin</text>
<text x="75.05" y="58.8" font-size="14.5" fill="#b2b5be" stroke="#b2b5be" stroke-width="0.2">/</text>
<text x="86.96" y="58.8" font-size="14.5" fill="#b2b5be" stroke="#b2b5be" stroke-width="0.2" textLength="62.6" lengthAdjust="spacingAndGlyphs">TetherUS,</text>
<text x="155.9" y="58.8" font-size="14.5" fill="#b2b5be" stroke="#b2b5be" stroke-width="0.2" textLength="20.27" lengthAdjust="spacingAndGlyphs">4s,</text>
<text x="180.79" y="58.8" font-size="14.5" fill="#b2b5be" stroke="#b2b5be" stroke-width="0.2" textLength="56.8" lengthAdjust="spacingAndGlyphs">BINANCE</text>
<text x="246.97" y="58.8" font-size="14.5" fill="#b2b5be" stroke="#b2b5be" stroke-width="0.2" textLength="9.26" lengthAdjust="spacingAndGlyphs">A</text>
<text x="325.1" y="58.8" font-size="14.5" fill="#b2b5be" stroke="#b2b5be" stroke-width="0.2" textLength="10.03" lengthAdjust="spacingAndGlyphs">Y</text>
<text x="404.09" y="58.8" font-size="14.5" fill="#b2b5be" stroke="#b2b5be" stroke-width="0.2" textLength="9.3" lengthAdjust="spacingAndGlyphs">D</text>
<text x="482.77" y="58.8" font-size="14.5" fill="#b2b5be" stroke="#b2b5be" stroke-width="0.2" textLength="9.54" lengthAdjust="spacingAndGlyphs">K</text>
<text x="256.82" y="58.8" font-size="14.5" fill="#f23645" stroke="#f23645" stroke-width="0.2" textLength="59.68" lengthAdjust="spacingAndGlyphs">22610.94</text>
<text x="334.43" y="58.8" font-size="14.5" fill="#f23645" stroke="#f23645" stroke-width="0.2" textLength="59.3" lengthAdjust="spacingAndGlyphs">22623.41</text>
<text x="413.37" y="58.8" font-size="14.5" fill="#f23645" stroke="#f23645" stroke-width="0.2" textLength="60.18" lengthAdjust="spacingAndGlyphs">22452.00</text>
<text x="492.06" y="58.8" font-size="14.5" fill="#f23645" stroke="#f23645" stroke-width="0.2" textLength="59.78" lengthAdjust="spacingAndGlyphs">22575.54</text>
<text x="560.42" y="58.8" font-size="14.5" fill="#f23645" stroke="#f23645" stroke-width="0.2" textLength="44.92" lengthAdjust="spacingAndGlyphs">−35.40</text>
<text x="611.34" y="58.8" font-size="14.5" fill="#f23645" stroke="#f23645" stroke-width="0.2" textLength="55.61" lengthAdjust="spacingAndGlyphs">(−0.16%)</text>
<text x="22.31" y="80" font-size="14.5" fill="#b2b5be" stroke="#b2b5be" stroke-width="0.2" textLength="43.37" lengthAdjust="spacingAndGlyphs">Hacim</text>
<text x="69.23" y="80" font-size="14.5" fill="#b2b5be" stroke="#b2b5be" stroke-width="0.2">·</text>
<text x="79.14" y="80" font-size="14.5" fill="#b2b5be" stroke="#b2b5be" stroke-width="0.2" textLength="25.9" lengthAdjust="spacingAndGlyphs">BTC</text>
<text x="113.88" y="80" font-size="14.5" fill="#f7525f" stroke="#f7525f" stroke-width="0.2" textLength="54.1" lengthAdjust="spacingAndGlyphs">25.921K</text>
</g>
<g id="logo" fill="#d1d4dc" shape-rendering="auto">
<path d="M13 749.6 H23 V762 H18 V754.8 H13 Z"/>
<circle cx="26.9" cy="752.4" r="2.6"/>
<path d="M30.5 749.6 H37.4 L32.9 762 H26.6 Z"/>
<text x="41.73" y="761.6" font-size="15.5" fill="#d1d4dc" stroke="#d1d4dc" stroke-width="0.45" textLength="87.78" lengthAdjust="spacingAndGlyphs">TradingView</text>
</g>
</svg>
</body></html>
